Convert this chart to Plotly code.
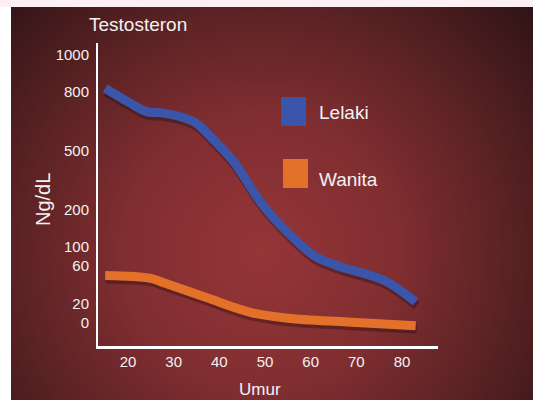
import base64
import numpy as np
import plotly.graph_objects as go

# ---- data (Ng/dL vs age) ----
age_lelaki = [15, 20, 24, 27, 32, 35, 39, 43, 50, 57, 61, 66, 76, 83]
lelaki = [820, 750, 700, 695, 670, 640, 550, 450, 210, 115, 80, 60, 45, 22]
age_wanita = [15, 25, 28, 37, 47, 55, 68, 83]
wanita = [50, 47, 42, 27, 11, 5, 1, -3]

x_ticks = [20, 30, 40, 50, 60, 70, 80]
y_tick_labels = ["0", "20", "60", "100", "200", "500", "800", "1000"]
y_tick_values = [0, 20, 60, 100, 200, 500, 800, 1000]

# non-linear (piecewise) value scale used by the original graphic
scale_pos = [23, 42, 80, 99, 136, 195, 254, 291]


def to_axis(v):
    v = np.asarray(v, dtype=float)
    out = np.interp(v, y_tick_values, scale_pos)
    lo = v < y_tick_values[0]
    slope = (scale_pos[1] - scale_pos[0]) / (y_tick_values[1] - y_tick_values[0])
    out[lo] = scale_pos[0] + (v[lo] - y_tick_values[0]) * slope
    return out


BLUE = "#3a55a9"
ORANGE = "#e4712a"
TXT = "#f4f1f1"
FONT = "Liberation Sans, Arial, sans-serif"

W, H = 533, 400
ml, mr, mt, mb = 98, 95, 43, 54
pw, ph = W - ml - mr, H - mt - mb

svg = f'''<svg xmlns="http://www.w3.org/2000/svg" width="522" height="393" viewBox="0 0 522 393">
<defs><radialGradient id="g" gradientUnits="userSpaceOnUse" cx="250" cy="245" r="380">
<stop offset="0" stop-color="#953538"/>
<stop offset="0.35" stop-color="#812e31"/>
<stop offset="0.65" stop-color="#5a2224"/>
<stop offset="1" stop-color="#2a1214"/>
</radialGradient></defs>
<rect width="522" height="393" fill="url(#g)"/></svg>'''
src = "data:image/svg+xml;base64," + base64.b64encode(svg.encode()).decode()

fig = go.Figure()

px_x = 1 / 4.567  # one pixel in age units
for ages, vals, col in [(age_lelaki, lelaki, BLUE), (age_wanita, wanita, ORANGE)]:
    yy = to_axis(vals)
    fig.add_trace(go.Scatter(x=np.array(ages) + 1.0 * px_x, y=yy - 3.5, mode="lines",
                             line=dict(color="rgba(30,8,8,0.35)", width=9, shape="spline"),
                             hoverinfo="skip", showlegend=False))
    fig.add_trace(go.Scatter(x=ages, y=yy, mode="lines",
                             line=dict(color=col, width=9, shape="spline"),
                             showlegend=False))

x0, x1 = 20 - 30 * px_x, 80 + 36 * px_x

fig.update_layout(
    width=W, height=H,
    margin=dict(l=ml, r=mr, t=mt, b=mb),
    paper_bgcolor="white", plot_bgcolor="rgba(0,0,0,0)",
    font=dict(family=FONT, color=TXT),
    images=[dict(source=src, xref="paper", yref="paper",
                 x=(11 - ml) / pw, y=(H - mb - 7) / ph,
                 sizex=(W - 11) / pw, sizey=(H - 7) / ph,
                 xanchor="left", yanchor="top", sizing="stretch", layer="below")],
    xaxis=dict(range=[x0, x1], tickvals=x_ticks, showgrid=False, zeroline=False,
               showline=True, linecolor="white", linewidth=2.5, ticks="",
               tickfont=dict(size=15, color=TXT)),
    yaxis=dict(range=[0, ph], tickvals=scale_pos, ticktext=y_tick_labels,
               showgrid=False, zeroline=False, showline=True, linecolor="white",
               linewidth=2, ticks="", tickfont=dict(size=15, color=TXT),
               ticklabelstandoff=4),
    showlegend=False,
)

shapes = [
    dict(type="rect", xref="paper", yref="paper", x0=-ml / pw, x1=(W - ml) / pw,
         y0=(H - mb - 7) / ph, y1=(H - mb) / ph, fillcolor="#fcf0f4", line_width=0, layer="below"),
    dict(type="rect", xref="paper", yref="paper", x0=(281 - ml) / pw, x1=(306 - ml) / pw,
         y0=(H - mb - 126) / ph, y1=(H - mb - 97) / ph, fillcolor=BLUE, line_width=0),
    dict(type="rect", xref="paper", yref="paper", x0=(283 - ml) / pw, x1=(308 - ml) / pw,
         y0=(H - mb - 188) / ph, y1=(H - mb - 159) / ph, fillcolor=ORANGE, line_width=0),
]
fig.update_layout(shapes=shapes)


def ann(text, px, py, size, angle=0, xanchor="center"):
    fig.add_annotation(text=text, xref="paper", yref="paper",
                       x=(px - ml) / pw, y=(H - mb - py) / ph,
                       xanchor=xanchor, yanchor="middle", showarrow=False,
                       textangle=angle, font=dict(size=size, color=TXT, family=FONT))


ann("Testosteron", 87, 25, 19, xanchor="left")
ann("Ng/dL", 43, 200, 20, angle=-90)
ann("Umur", 260, 389, 17)
ann("Lelaki", 317, 112, 19, xanchor="left")
ann("Wanita", 317, 179, 19, xanchor="left")

fig.write_html("out.html", config={"displayModeBar": False},
               post_script="document.body.style.margin='0px';document.body.style.overflow='hidden';")
